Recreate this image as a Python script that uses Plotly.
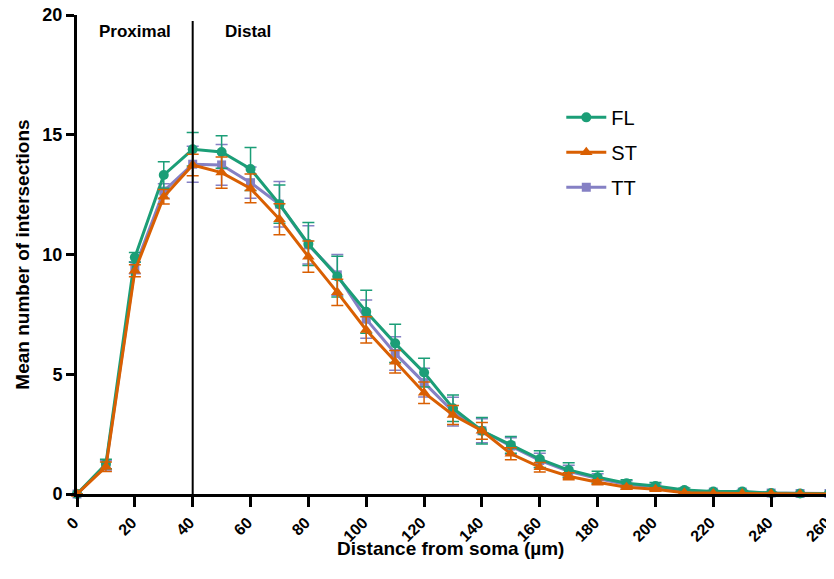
import plotly.graph_objects as go

distance = list(range(0, 261, 10))

fl_mean = [0, 1.25, 9.88, 13.32, 14.39, 14.28, 13.57, 12.1, 10.44, 9.08, 7.61, 6.29, 5.07,
           3.58, 2.64, 2.05, 1.46, 1.0, 0.7, 0.45, 0.33, 0.17, 0.1, 0.1, 0.04, 0.02, 0.02]
fl_err = [0, 0.2, 0.2, 0.55, 0.7, 0.68, 0.9, 0.8, 0.9, 0.85, 0.9, 0.8, 0.6,
          0.55, 0.55, 0.35, 0.35, 0.3, 0.25, 0.15, 0.15, 0.08, 0.05, 0.05, 0.03, 0.01, 0.01]

st_mean = [0, 1.14, 9.32, 12.41, 13.74, 13.42, 12.76, 11.47, 9.91, 8.42, 6.85, 5.52, 4.23,
           3.3, 2.64, 1.68, 1.12, 0.74, 0.49, 0.28, 0.2, 0.05, 0.02, 0.02, 0.01, 0.0, 0.0]
st_err = [0, 0.2, 0.25, 0.3, 0.45, 0.65, 0.6, 0.65, 0.65, 0.55, 0.55, 0.47, 0.45,
          0.4, 0.35, 0.25, 0.2, 0.15, 0.1, 0.08, 0.06, 0.03, 0.02, 0.02, 0.01, 0.0, 0.0]

tt_mean = [0, 1.2, 9.45, 12.65, 13.77, 13.74, 13.0, 12.1, 10.4, 9.15, 7.3, 5.87, 4.65,
           3.44, 2.64, 2.0, 1.4, 0.95, 0.65, 0.4, 0.3, 0.12, 0.08, 0.08, 0.04, 0.02, 0.02]
tt_err = [0, 0.2, 0.25, 0.3, 0.75, 0.85, 0.65, 0.95, 0.8, 0.85, 0.8, 0.7, 0.6,
          0.6, 0.5, 0.35, 0.3, 0.25, 0.2, 0.15, 0.12, 0.06, 0.04, 0.04, 0.03, 0.01, 0.01]

x_ticks = list(range(0, 261, 20))
y_ticks = [0, 5, 10, 15, 20]

GREEN = "#1b9e77"
ORANGE = "#d95f02"
PURPLE = "#8580c4"

fig = go.Figure()

def add(name, y, err, color, symbol, rank, size):
    fig.add_trace(go.Scatter(
        x=distance, y=y, name=name, mode="lines+markers",
        line=dict(color=color, width=3),
        marker=dict(color=color, symbol=symbol, size=size),
        error_y=dict(type="data", array=err, visible=True, color=color,
                     thickness=1.5, width=6),
        cliponaxis=False, legendrank=rank, legendgroup=name,
    ))

add("TT", tt_mean, tt_err, PURPLE, "square", 3, 9)
add("FL", fl_mean, fl_err, GREEN, "circle", 1, 10)
add("ST", st_mean, st_err, ORANGE, "triangle-up", 2, 11)

FONT = "Liberation Sans"
xtickfont = dict(family=FONT, size=16, color="black", weight="bold")
ytickfont = dict(family=FONT, size=18, color="black", weight="bold")
titlefont = dict(family=FONT, size=19, color="black", weight="bold")

fig.add_shape(type="line", xref="x", yref="paper", x0=40, x1=40, y0=0, y1=0.9875,
              line=dict(color="black", width=2), layer="above")

fig.add_annotation(x=20, y=19.33, text="Proximal", showarrow=False,
                   font=dict(family=FONT, size=17, color="black", weight="bold"))
fig.add_annotation(x=59, y=19.33, text="Distal", showarrow=False,
                   font=dict(family=FONT, size=17, color="black", weight="bold"))
fig.add_annotation(xref="paper", yref="paper", x=0.497, y=0, yshift=-54,
                   yanchor="middle", text="Distance from soma (µm)",
                   showarrow=False, font=titlefont)

fig.update_layout(
    width=826, height=571,
    paper_bgcolor="white", plot_bgcolor="white",
    margin=dict(l=69, r=5, t=7, b=85),
    showlegend=True,
    legend=dict(x=0.644, y=0.827, xanchor="left", yanchor="top",
                font=dict(family=FONT, size=20, color="black"),
                bgcolor="rgba(0,0,0,0)", itemwidth=40, tracegroupgap=6),
    xaxis=dict(range=[0, 260], tickvals=x_ticks, ticks="outside", ticklen=10,
               tickwidth=3, tickcolor="black", showline=True, linecolor="black",
               linewidth=3, showgrid=False, zeroline=False, tickangle=-45,
               tickfont=xtickfont, automargin=False, ticklabeloverflow="allow",
               ticklabelshift=-3),
    yaxis=dict(range=[0, 20], tickvals=y_ticks, ticks="outside", ticklen=8,
               tickwidth=3, tickcolor="black", showline=True, linecolor="black",
               linewidth=3, showgrid=False, zeroline=False, tickfont=ytickfont,
               automargin=False, ticklabeloverflow="allow",
               title=dict(text="Mean number of intersections", standoff=8, font=titlefont)),
)

fig.write_html("out.html")
